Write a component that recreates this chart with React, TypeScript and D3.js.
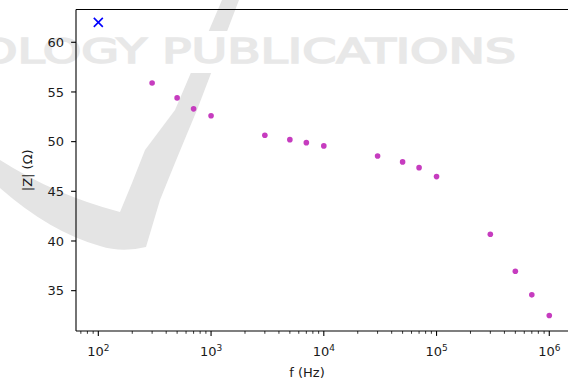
import React from "react";
import * as d3 from "d3";

const freqs = [300, 500, 700, 1000, 3000, 5000, 7000, 10000, 30000, 50000, 70000, 100000, 300000, 500000, 700000, 1000000];
const impedance = [55.9, 54.4, 53.3, 52.6, 50.64, 50.2, 49.9, 49.57, 48.56, 47.96, 47.38, 46.48, 40.68, 36.96, 34.58, 32.5];
const outlierFreq = [100];
const outlierZ = [62];
const xTickExps = [2, 3, 4, 5, 6];
const yTicks = [35, 40, 45, 50, 55, 60];
const xLabel = "f (Hz)";
const yLabel = "|Z| (Ω)";
const watermark = "OLOGY PUBLICATIONS";

const W = 568;
const H = 383;
const left = 76;
const right = 571.6;
const top = 9.5;
const bottom = 331;

export default function App() {
  const x = d3.scaleLog().domain([Math.pow(10, 1.802), Math.pow(10, 6.198)]).range([left, right]);
  const y = d3.scaleLinear().domain([30.94, 63.3]).range([bottom, top]);

  const minor: number[] = [];
  for (let e = 1; e <= 6; e++) {
    for (let k = 2; k <= 9; k++) {
      const v = k * Math.pow(10, e);
      if (x(v) >= left && x(v) <= W) minor.push(v);
    }
  }
  const font = "DejaVu Sans, sans-serif";
  const txt = "#1a1a1a";

  const bandPath =
    "M222,0 L239,0 L197,110 Q176,160 160,200 L146,247 Q122,253 100,246 Q50,232 0,188 L0,160 Q55,195 120,212 L132,183 L145,150 L175,110 Z";

  return (
    <svg
      width={W}
      height={H}
      style={{ position: "absolute", left: 0, top: 0, display: "block", background: "#fff" }}
    >
      <rect x={0} y={0} width={W} height={H} fill="#fff" />
      {/* watermark */}
      <path d={bandPath} fill="#e4e4e4" />
      <rect x={0} y={31} width={W} height={42} fill="#fff" />
      <text
        x={-21}
        y={63}
        fontFamily={font}
        fontWeight="normal"
        fontSize={33}
        fill="#e8e8e8"
        stroke="#e8e8e8"
        strokeWidth={1.6}
        textLength={537}
        lengthAdjust="spacingAndGlyphs"
      >
        {watermark}
      </text>

      {/* data */}
      {freqs.map((f, i) => (
        <circle key={i} cx={x(f)} cy={y(impedance[i])} r={2.8} fill="#c63cbf" />
      ))}
      {outlierFreq.map((f, i) => {
        const cx = x(f);
        const cy = y(outlierZ[i]);
        const s = 4.5;
        return (
          <g key={"o" + i} stroke="#0000ff" strokeWidth={1.6}>
            <line x1={cx - s} y1={cy - s} x2={cx + s} y2={cy + s} />
            <line x1={cx - s} y1={cy + s} x2={cx + s} y2={cy - s} />
          </g>
        );
      })}

      {/* spines */}
      <g stroke="#000" strokeWidth={1.1} fill="none">
        <line x1={left} y1={top} x2={left} y2={bottom} />
        <line x1={left} y1={bottom} x2={right} y2={bottom} />
        <line x1={left} y1={top} x2={right} y2={top} />
        <line x1={right} y1={top} x2={right} y2={bottom} />
      </g>

      {/* x ticks */}
      {minor.map((v, i) => (
        <line key={"m" + i} x1={x(v)} x2={x(v)} y1={bottom} y2={bottom + 2.8} stroke="#000" strokeWidth={0.8} />
      ))}
      {xTickExps.map((e) => {
        const xv = x(Math.pow(10, e));
        return (
          <g key={"x" + e}>
            <line x1={xv} x2={xv} y1={bottom} y2={bottom + 4.9} stroke="#000" strokeWidth={1.1} />
            <text x={xv} y={356} textAnchor="middle" fontFamily={font} fontSize={13} fill={txt}>
              10
              <tspan dy={-5.5} fontSize={9}>
                {e}
              </tspan>
            </text>
          </g>
        );
      })}

      {/* y ticks */}
      {yTicks.map((t) => (
        <g key={"y" + t}>
          <line x1={left - 4.9} x2={left} y1={y(t)} y2={y(t)} stroke="#000" strokeWidth={1.1} />
          <text x={64} y={y(t)} dy="0.36em" textAnchor="end" fontFamily={font} fontSize={13} fill={txt}>
            {t}
          </text>
        </g>
      ))}

      {/* labels */}
      <text x={307} y={377} textAnchor="middle" fontFamily={font} fontSize={13} fill={txt}>
        {xLabel}
      </text>
      <text
        transform={`translate(32,${(top + bottom) / 2}) rotate(-90)`}
        textAnchor="middle"
        fontFamily={font}
        fontSize={13}
        fill={txt}
      >
        {yLabel}
      </text>
    </svg>
  );
}
